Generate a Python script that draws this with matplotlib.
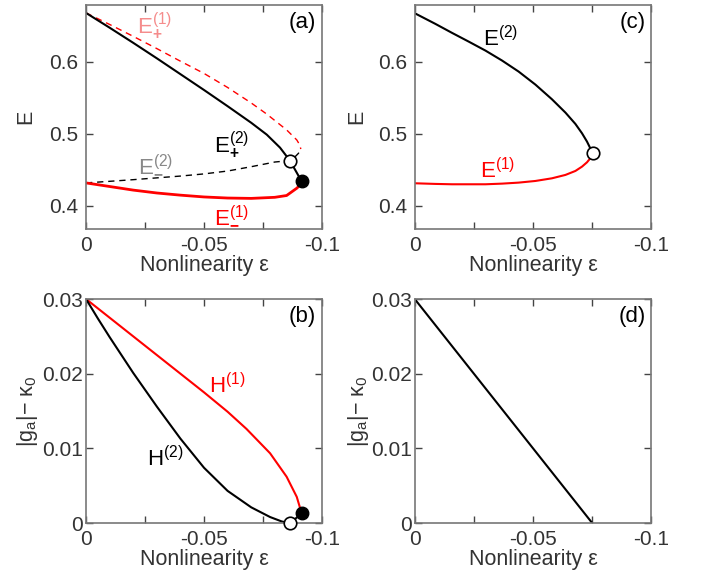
import matplotlib
matplotlib.use("Agg")
import matplotlib.pyplot as plt

plt.rcParams["font.family"] = ["Liberation Sans", "DejaVu Sans"]
plt.rcParams["mathtext.fontset"] = "custom"
plt.rcParams["mathtext.rm"] = "Liberation Sans"
plt.rcParams["mathtext.it"] = "Liberation Sans:italic"
plt.rcParams["mathtext.bf"] = "Liberation Sans:bold"

# ---- panel (a): energies, two branches each ----
eps_Ep1 = [0, -0.01, -0.02, -0.03, -0.04, -0.05, -0.06, -0.07, -0.0766,
           -0.085, -0.0893, -0.0907, -0.0910]
E_p1 = [0.668, 0.652, 0.6355, 0.6185, 0.601, 0.584, 0.5645, 0.543, 0.5275,
        0.5056, 0.4917, 0.4840, 0.479]

eps_Ep2 = [0, -0.01, -0.02, -0.03, -0.04, -0.05, -0.06, -0.07, -0.0766,
           -0.0822, -0.0864]
E_p2 = [0.668, 0.6475, 0.6265, 0.605, 0.583, 0.561, 0.5385, 0.5155, 0.499,
        0.481, 0.463]

eps_Em2 = [0, -0.01, -0.02, -0.03, -0.04, -0.05, -0.06, -0.07, -0.08,
           -0.0864, -0.0885, -0.0900, -0.0910]
E_m2 = [0.432, 0.4342, 0.4365, 0.439, 0.4415, 0.4445, 0.4485, 0.4545, 0.461,
        0.463, 0.468, 0.473, 0.479]

eps_Em1 = [0, -0.01, -0.02, -0.03, -0.04, -0.05, -0.06, -0.07, -0.08,
           -0.085, -0.0893, -0.091, -0.0914]
E_m1 = [0.432, 0.427, 0.422, 0.418, 0.415, 0.4125, 0.411, 0.4105, 0.412,
        0.4145, 0.4246, 0.430, 0.434]

eps_open_a, E_open_a = -0.0864, 0.463
eps_full_a, E_full_a = -0.0914, 0.434

# ---- panel (c) ----
eps_c = [0, -0.00873, -0.01577, -0.0228, -0.0299, -0.0369, -0.0439, -0.0510,
         -0.0580, -0.0637, -0.0679, -0.0707, -0.0728, -0.0742, -0.0752]
E_c2 = [0.6676, 0.6528, 0.6403, 0.6282, 0.6157, 0.6019, 0.5866, 0.5685,
        0.5481, 0.5296, 0.5139, 0.5009, 0.4894, 0.4801, 0.4741]
E_c1 = [0.4315, 0.4306, 0.4301, 0.4301, 0.4301, 0.4310, 0.4324, 0.4347,
        0.4384, 0.4431, 0.4486, 0.4546, 0.4606, 0.4662, 0.4741]

# ---- panel (b): thresholds ----
eps_H1 = [0, -0.01, -0.02, -0.03, -0.04, -0.05, -0.06, -0.068, -0.078,
          -0.085, -0.0893, -0.0910, -0.0914]
H1 = [0.030, 0.0275, 0.0250, 0.0225, 0.0200, 0.0175, 0.0149, 0.0126,
      0.00934, 0.0062, 0.0035, 0.0017, 0.0013]
eps_H2 = [0, -0.005, -0.01, -0.02, -0.03, -0.04, -0.05, -0.06, -0.07,
          -0.078, -0.083, -0.0866]
H2 = [0.030, 0.0274, 0.0249, 0.0201, 0.0156, 0.0113, 0.0074, 0.0043,
      0.0021, 0.0008, 0.0002, 0.0]
eps_open_b, H_open_b = -0.0866, 0.0
eps_full_b, H_full_b = -0.0914, 0.0013

# ---- panel (d) ----
eps_d = [0, -0.075]
H_d = [0.030, 0.0]

xticks = [0, -0.05, -0.1]
xticklabels = ["0", "-0.05", "-0.1"]
xminor = [-0.025, -0.075]
Eticks = [0.4, 0.5, 0.6]
Eticklabels = ["0.4", "0.5", "0.6"]
Hticks = [0, 0.01, 0.02, 0.03]
Hticklabels = ["0", "0.01", "0.02", "0.03"]

RED = "#ff0000"
GREY_TXT = "#333333"
SPINE = "#777777"
HLABEL = r"|g$_\mathregular{a}$|− κ$_\mathregular{0}$"

fig = plt.figure(figsize=(7.04, 5.83), dpi=100)
ax_a = fig.add_axes([0.1222, 0.6072, 0.3352, 0.3842])
ax_c = fig.add_axes([0.5891, 0.6072, 0.3361, 0.3842])
ax_b = fig.add_axes([0.1222, 0.1029, 0.3352, 0.3842])
ax_d = fig.add_axes([0.5891, 0.1029, 0.3361, 0.3842])


def style(ax, yticks, yticklabels, ylim, ylabel, ypad, lab_x):
    ax.set_xlim(0, -0.1)
    ax.set_ylim(*ylim)
    ax.set_xticks(xticks)
    ax.set_xticklabels(xticklabels)
    ax.set_xticks(xminor, minor=True)
    ax.set_yticks(yticks)
    ax.set_yticklabels(yticklabels)
    ax.tick_params(which="both", direction="in", top=True, right=True,
                   length=5, width=1, color="#444444", labelsize=15,
                   labelcolor=GREY_TXT)
    ax.tick_params(axis="y", pad=ypad)
    ax.tick_params(axis="x", pad=4.8)
    for s in ax.spines.values():
        s.set_color(SPINE)
        s.set_linewidth(1.2)
    ax.set_xlabel("Nonlinearity ε", fontsize=15.5, color=GREY_TXT, labelpad=0.5)
    ax.set_ylabel(ylabel, fontsize=15.5, color=GREY_TXT)
    ax.yaxis.set_label_coords(lab_x, 0.5)


def panel_tag(ax, tag):
    ax.text(0.975, 0.968, tag, transform=ax.transAxes, ha="right", va="top",
            fontsize=16, color="black")


# (a)
ax_a.plot(eps_Ep1, E_p1, color=RED, lw=1.0, dashes=(4.5, 3.5))
ax_a.plot(eps_Em2, E_m2, color="black", lw=1.0, dashes=(4.5, 3.5))
ax_a.plot(eps_Ep2, E_p2, color="black", lw=1.5)
ax_a.plot([eps_open_a, eps_full_a], [E_open_a, E_full_a], color="black", lw=1.5)
ax_a.plot(eps_Em1, E_m1, color=RED, lw=2.0)
ax_a.plot(eps_open_a, E_open_a, "o", ms=9, mfc="white", mec="black", mew=1.2,
          zorder=5)
ax_a.plot(eps_full_a, E_full_a, "o", ms=9, mfc="black", mec="black", zorder=5)
ax_a.text(-0.0216, 0.640, r"$\mathregular{E^{(1)}_{\mathbf{+}}}$",
          color="#f58c8c", fontsize=16, va="baseline")
ax_a.text(-0.0542, 0.475, r"$\mathregular{E^{(2)}_{\mathbf{+}}}$",
          color="black", fontsize=16, va="baseline")
ax_a.text(-0.0219, 0.449, r"$\mathregular{E^{(2)}_{\mathbf{-}}}$",
          color="#888888", fontsize=16, va="baseline")
ax_a.text(-0.0542, 0.379, r"$\mathregular{E^{(1)}_{\mathbf{-}}}$",
          color=RED, fontsize=16, va="baseline")
style(ax_a, Eticks, Eticklabels, (0.368, 0.679), "E", 5.5, -0.21)
panel_tag(ax_a, "(a)")

# (c)
ax_c.plot(eps_c, E_c2, color="black", lw=1.5)
ax_c.plot(eps_c, E_c1, color=RED, lw=1.5)
ax_c.plot(eps_c[-1], E_c2[-1], "o", ms=9, mfc="white", mec="black", mew=1.2,
          zorder=5)
ax_c.text(-0.0290, 0.622, r"$\mathregular{E^{(2)}}$", color="black",
          fontsize=16, va="baseline")
ax_c.text(-0.0275, 0.439, r"$\mathregular{E^{(1)}}$", color=RED,
          fontsize=16, va="baseline")
style(ax_c, Eticks, Eticklabels, (0.368, 0.679), "E", 5.5, -0.20)
panel_tag(ax_c, "(c)")

# (b)
ax_b.plot(eps_H1, H1, color=RED, lw=1.5)
ax_b.plot(eps_H2, H2, color="black", lw=1.5)
ax_b.plot([eps_open_b, eps_full_b], [H_open_b, H_full_b], color="black", lw=1.5)
ax_b.plot(eps_open_b, H_open_b, "o", ms=9, mfc="white", mec="black", mew=1.2,
          zorder=5, clip_on=False)
ax_b.plot(eps_full_b, H_full_b, "o", ms=9, mfc="black", mec="black", zorder=5,
          clip_on=False)
ax_b.text(-0.0522, 0.0174, r"$\mathregular{H^{(1)}}$", color=RED,
          fontsize=16, va="baseline")
ax_b.text(-0.0259, 0.0076, r"$\mathregular{H^{(2)}}$", color="black",
          fontsize=16, va="baseline")
style(ax_b, Hticks, Hticklabels, (0, 0.03), HLABEL, 2.5, -0.195)
panel_tag(ax_b, "(b)")

# (d)
ax_d.plot(eps_d, H_d, color="black", lw=1.5)
style(ax_d, Hticks, Hticklabels, (0, 0.03), HLABEL, 2.0, -0.185)
panel_tag(ax_d, "(d)")

fig.savefig("out.png", dpi=100)
